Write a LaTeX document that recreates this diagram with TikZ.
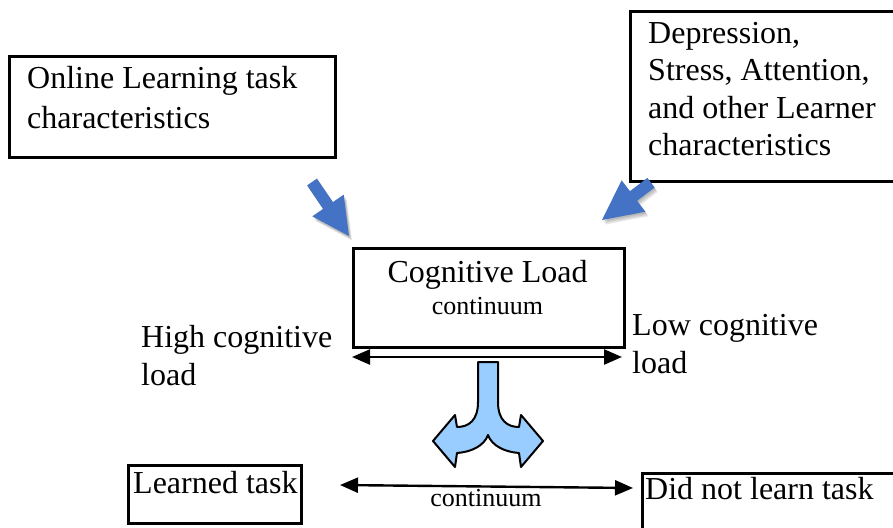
\documentclass[tikz,border=0pt]{standalone}
\usepackage{fontspec}
\setmainfont{Liberation Serif}
\usetikzlibrary{arrows.meta}
\definecolor{arrowblue}{HTML}{4472C4}
\definecolor{splitblue}{HTML}{99CCFF}
\begin{document}
\begin{tikzpicture}[x=1pt,y=-1pt,
  box/.style={draw, line width=2.6pt, inner sep=0pt, anchor=north west},
  big/.style={font=\fontsize{32}{40}\selectfont, inner sep=0pt, anchor=base west},
  bigc/.style={font=\fontsize{32}{40}\selectfont, inner sep=0pt, anchor=base},
  small/.style={font=\fontsize{26}{30}\selectfont, inner sep=0pt, anchor=base},
  dbl/.style={line width=2.4pt, {Triangle[length=18pt,width=15pt]}-{Triangle[length=18pt,width=15pt]}},
  bluearrow/.style={fill=arrowblue},
  shade/.style={fill=black, opacity=0.10},
  split/.style={fill=splitblue, draw=black, line width=2pt, line join=round}]
\useasboundingbox (0,0) rectangle (893,527);
\clip (0,0) rectangle (893,527);
\fill[white] (0,0) rectangle (893,527);

% boxes
\node[box, minimum width=326pt, minimum height=101pt] (online) at (8,55) {};
\node[box, minimum width=300pt, minimum height=170pt] (depr) at (629,10) {};
\node[box, minimum width=271pt, minimum height=99pt] (cog) at (352,247) {};
\node[box, minimum width=173pt, minimum height=58pt] (learned) at (127,464) {};
\node[box, minimum width=300pt, minimum height=100pt] (notlearn) at (641,472) {};

% texts
\node[big] (t1) at (27,88) {Online Learning task};
\node[big] (t2) at (27,128) {characteristics};
\node[big] (d1) at (648,44) {Depression,};
\node[big] (d2) at (648,81) {Stress, Attention,};
\node[big] (d3) at (648,118) {and other Learner};
\node[big] (d4) at (648,155) {characteristics};
\node[bigc] (c1) at (487.5,282) {Cognitive Load};
\node[small] (c2) at (487.5,314) {continuum};
\node[big] (h1) at (141,347) {High cognitive};
\node[big] (h2) at (141,385) {load};
\node[big] (l1) at (632,335) {Low cognitive};
\node[big] (l2) at (632,373) {load};
\node[big] (lt) at (133,493) {Learned task};
\node[big] (nl) at (645,499) {Did not learn task};
\node[small] (c3) at (486,506) {continuum};

% double arrows
\coordinate (cl-l) at (352,357);
\coordinate (cl-r) at (622,357);
\draw[dbl] (cl-l) -- (cl-r);
\coordinate (lt-l) at (340,485);
\coordinate (lt-r) at (633,488);
\draw[dbl] (lt-l) -- (lt-r);

% blue arrows with soft shadows
\foreach \s in {1,2,3}{
  \fill[shade, shift={(\s,1.5*\s)}] (316.9,178.6) -- (332.9,202.1) -- (343.7,194.7) -- (349,236) -- (312.3,216.3) -- (323.1,208.9) -- (307.1,185.4) -- cycle;
  \fill[shade, shift={(\s,1.5*\s)}] (647.4,177.9) -- (629.9,191.2) -- (621.6,180.3) -- (602,220) -- (645.4,211.7) -- (637.1,200.8) -- (654.6,187.5) -- cycle;
}
\fill[bluearrow] (316.9,178.6) -- (332.9,202.1) -- (343.7,194.7) -- (349,236) -- (312.3,216.3) -- (323.1,208.9) -- (307.1,185.4) -- cycle;
\fill[bluearrow] (647.4,177.9) -- (629.9,191.2) -- (621.6,180.3) -- (602,220) -- (645.4,211.7) -- (637.1,200.8) -- (654.6,187.5) -- cycle;

% split arrow
\draw[split] (478,362) -- (478,402) .. controls (478,420) and (469,427) .. (457,427)
  -- (455,415) -- (433,441) -- (455,467) -- (457,453)
  .. controls (471,452) and (484,446) .. (488,435)
  .. controls (492,446) and (505,452) .. (519,453)
  -- (521,467) -- (543,441) -- (521,415) -- (519,427)
  .. controls (507,427) and (498,420) .. (498,402) -- (498,362) -- cycle;
\end{tikzpicture}
\end{document}
